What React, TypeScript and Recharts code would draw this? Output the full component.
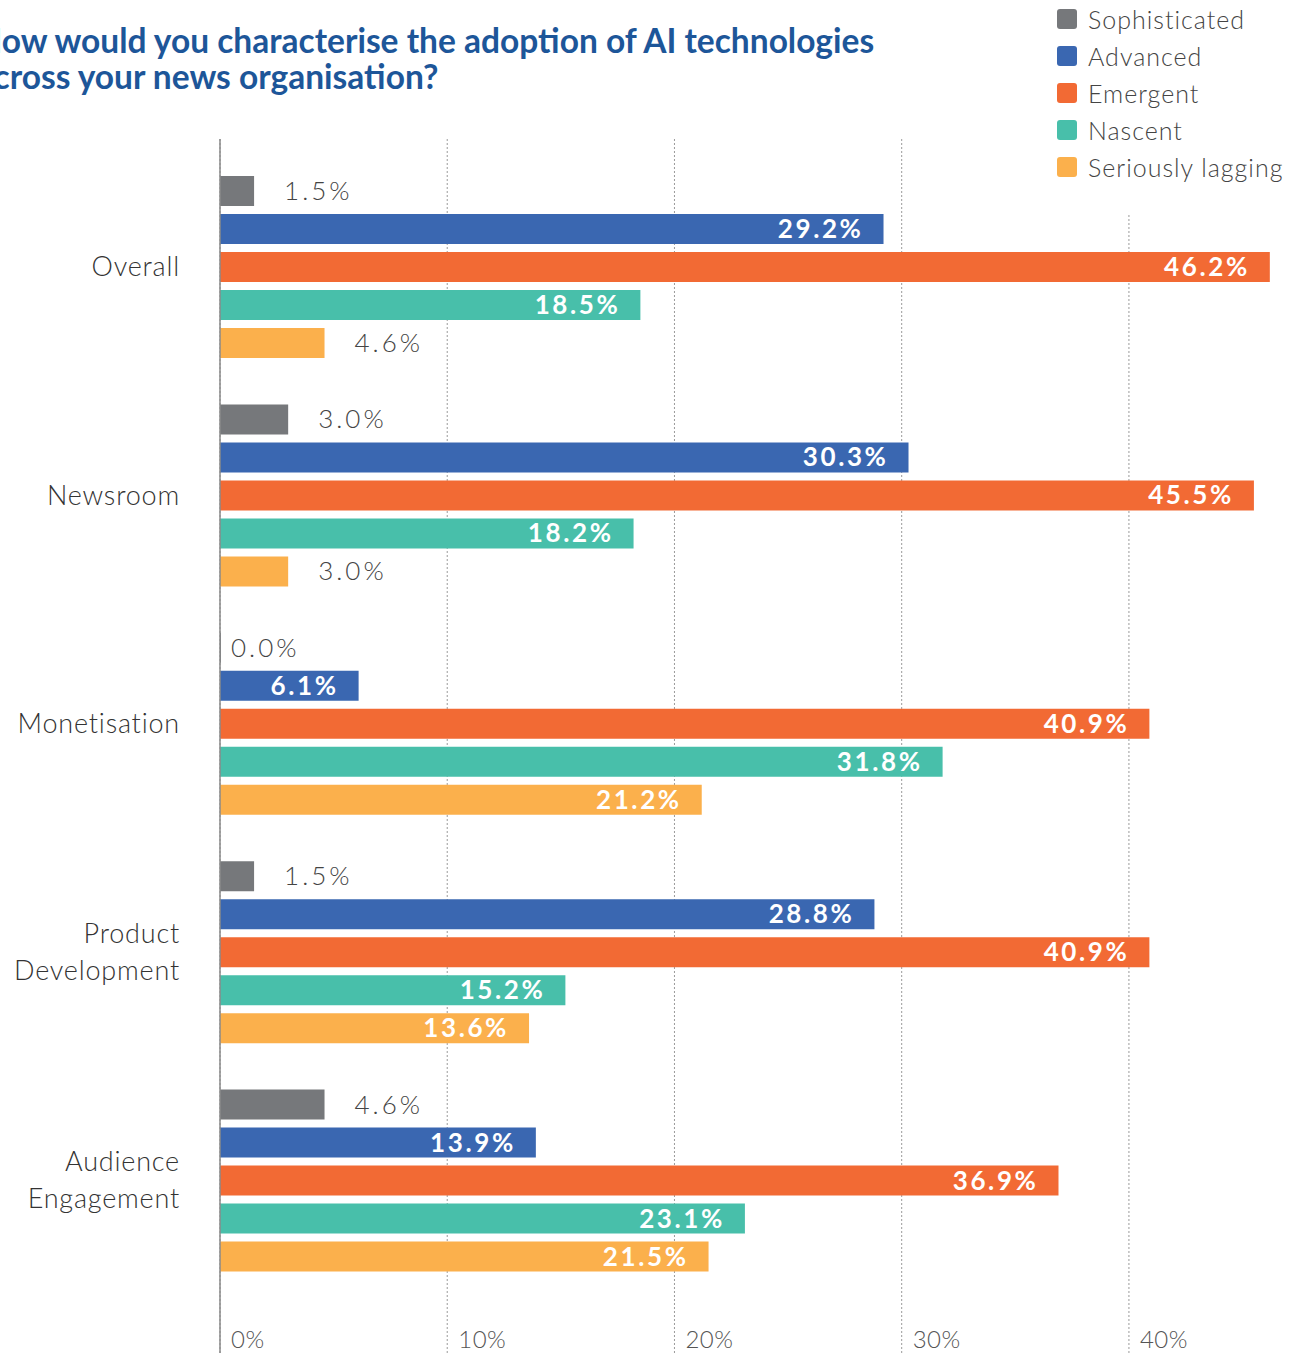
import React from 'react';
import { BarChart, Bar, XAxis, YAxis, CartesianGrid, LabelList, Legend } from 'recharts';

const categories = ['Overall', 'Newsroom', 'Monetisation', 'Product Development', 'Audience Engagement'];
const sophisticated = [1.5, 3.0, 0.0, 1.5, 4.6];
const advanced = [29.2, 30.3, 6.1, 28.8, 13.9];
const emergent = [46.2, 45.5, 40.9, 40.9, 36.9];
const nascent = [18.5, 18.2, 31.8, 15.2, 23.1];
const lagging = [4.6, 3.0, 21.2, 13.6, 21.5];
const xTicks = [0, 10, 20, 30, 40];
const seriesNames = ['Sophisticated', 'Advanced', 'Emergent', 'Nascent', 'Seriously lagging'];
const seriesKeys = ['sophisticated', 'advanced', 'emergent', 'nascent', 'lagging'];
const titleLines = ['How would you characterise the adoption of AI technologies', 'across your news organisation?'];

const COLORS = ['#76787b', '#3a67b1', '#f26a34', '#48bfaa', '#fbb04c'];
const FONT = 'Lato, "Open Sans", sans-serif';

const data = categories.map((c, i) => ({
  category: c,
  sophisticated: sophisticated[i],
  advanced: advanced[i],
  emergent: emergent[i],
  nascent: nascent[i],
  lagging: lagging[i],
}));

const renderValueLabel = (props: any) => {
  const { x, y, width, height, value } = props;
  const v = Number(value);
  const text = v.toFixed(1) + '%';
  const cy = Number(y) + Number(height) / 2;
  const w = Number(width) || 0;
  if (v < 5) {
    return (
      <text
        x={Number(x) + w + (v === 0 ? 10 : 30)}
        y={cy}
        dy={9}
        textAnchor="start"
        fill="#444"
        fontSize={26}
        fontWeight={300}
        fontFamily={FONT}
        letterSpacing={3}
      >
        {text}
      </text>
    );
  }
  return (
    <text
      x={Number(x) + w - 20}
      y={cy}
      dy={9}
      textAnchor="end"
      fill="#ffffff"
      fontSize={26}
      fontWeight={700}
      fontFamily={FONT}
      letterSpacing={2.6}
    >
      {text}
    </text>
  );
};

const CategoryTick = (props: any) => {
  const { x, y, payload } = props;
  const words = String(payload.value).split(' ');
  const lh = 37;
  const startDy = -((words.length - 1) * lh) / 2 + 9;
  return (
    <text
      x={x - 40}
      y={y}
      textAnchor="end"
      fill="#333"
      fontSize={27}
      fontWeight={300}
      fontFamily={FONT}
      letterSpacing={0.8}
    >
      {words.map((w, i) => (
        <tspan key={i} x={x - 40} dy={i === 0 ? startDy : lh}>
          {w}
        </tspan>
      ))}
    </text>
  );
};

const PercentTick = (props: any) => {
  const { x, y, payload } = props;
  return (
    <text
      x={x + 11}
      y={y - 5}
      textAnchor="start"
      fill="#555"
      fontSize={24}
      fontWeight={300}
      fontFamily={FONT}
      letterSpacing={0.5}
    >
      {payload.value}%
    </text>
  );
};

const GridLine = (p: any) => {
  if (p.index >= xTicks.length) return <g key={p.key} />;
  return (
    <line
      key={p.key}
      x1={p.x1}
      x2={p.x2}
      y1={p.index === xTicks.length - 1 ? p.y1 + 76 : p.y1}
      y2={p.y2}
      stroke="#9a9a9a"
      strokeWidth={1}
      strokeDasharray="2 2"
    />
  );
};

const LegendContent = (props: any) => {
  const payload = [...(props.payload || [])].sort(
    (a: any, b: any) => seriesNames.indexOf(a.value) - seriesNames.indexOf(b.value)
  );
  return (
    <div style={{ fontFamily: FONT }}>
      {payload.map((entry: any, i: number) => (
        <div key={i} style={{ display: 'flex', alignItems: 'center', height: 37.2 }}>
          <span
            style={{
              display: 'inline-block',
              width: 20,
              height: 20,
              borderRadius: 3,
              background: entry.color,
              marginRight: 11,
              flexShrink: 0,
            }}
          />
          <span style={{ fontSize: 25, fontWeight: 300, color: '#444', whiteSpace: 'nowrap', letterSpacing: 1 }}>
            {entry.value}
          </span>
        </div>
      ))}
    </div>
  );
};

export default function App() {
  return (
    <div style={{ position: 'absolute', left: 0, top: 0, width: 1297, height: 1354, overflow: 'hidden', background: '#fff' }}>
      <div
        style={{
          position: 'absolute',
          left: -23.5,
          top: 21.5,
          zIndex: 2,
          fontFamily: FONT,
          fontWeight: 700,
          fontSize: 33.5,
          lineHeight: '36px',
          color: '#1d5699',
          whiteSpace: 'nowrap',
        }}
      >
        {titleLines.map((l, i) => (
          <div key={i}>{l}</div>
        ))}
      </div>
      <BarChart
        width={1297}
        height={1354}
        data={data}
        layout="vertical"
        margin={{ top: 139, right: 9, bottom: 0, left: 0 }}
        barSize={30}
        barGap={8}
      >
        <CartesianGrid horizontal={false} vertical={GridLine} />
        <XAxis
          type="number"
          domain={[0, 47]}
          ticks={xTicks}
          axisLine={false}
          tickLine={false}
          tickSize={0}
          tickMargin={0}
          height={1}
          interval={0}
          tick={<PercentTick />}
        />
        <YAxis
          type="category"
          dataKey="category"
          width={220}
          axisLine={{ stroke: '#8a8a8a', strokeWidth: 1.5 }}
          tickLine={false}
          tickSize={0}
          tickMargin={0}
          interval={0}
          padding={{ top: 14, bottom: 58 }}
          tick={<CategoryTick />}
        />
        <Legend
          layout="vertical"
          align="center"
          verticalAlign="middle"
          wrapperStyle={{ position: 'absolute', left: 1057, top: 0, width: 240 }}
          content={<LegendContent />}
        />
        {seriesKeys.map((k, i) => (
          <Bar
            key={k}
            dataKey={k}
            name={seriesNames[i]}
            fill={COLORS[i]}
            isAnimationActive={false}
            minPointSize={(v: number) => (v === 0 ? 1 : 0)}
          >
            <LabelList dataKey={k} content={renderValueLabel} />
          </Bar>
        ))}
      </BarChart>
    </div>
  );
}
